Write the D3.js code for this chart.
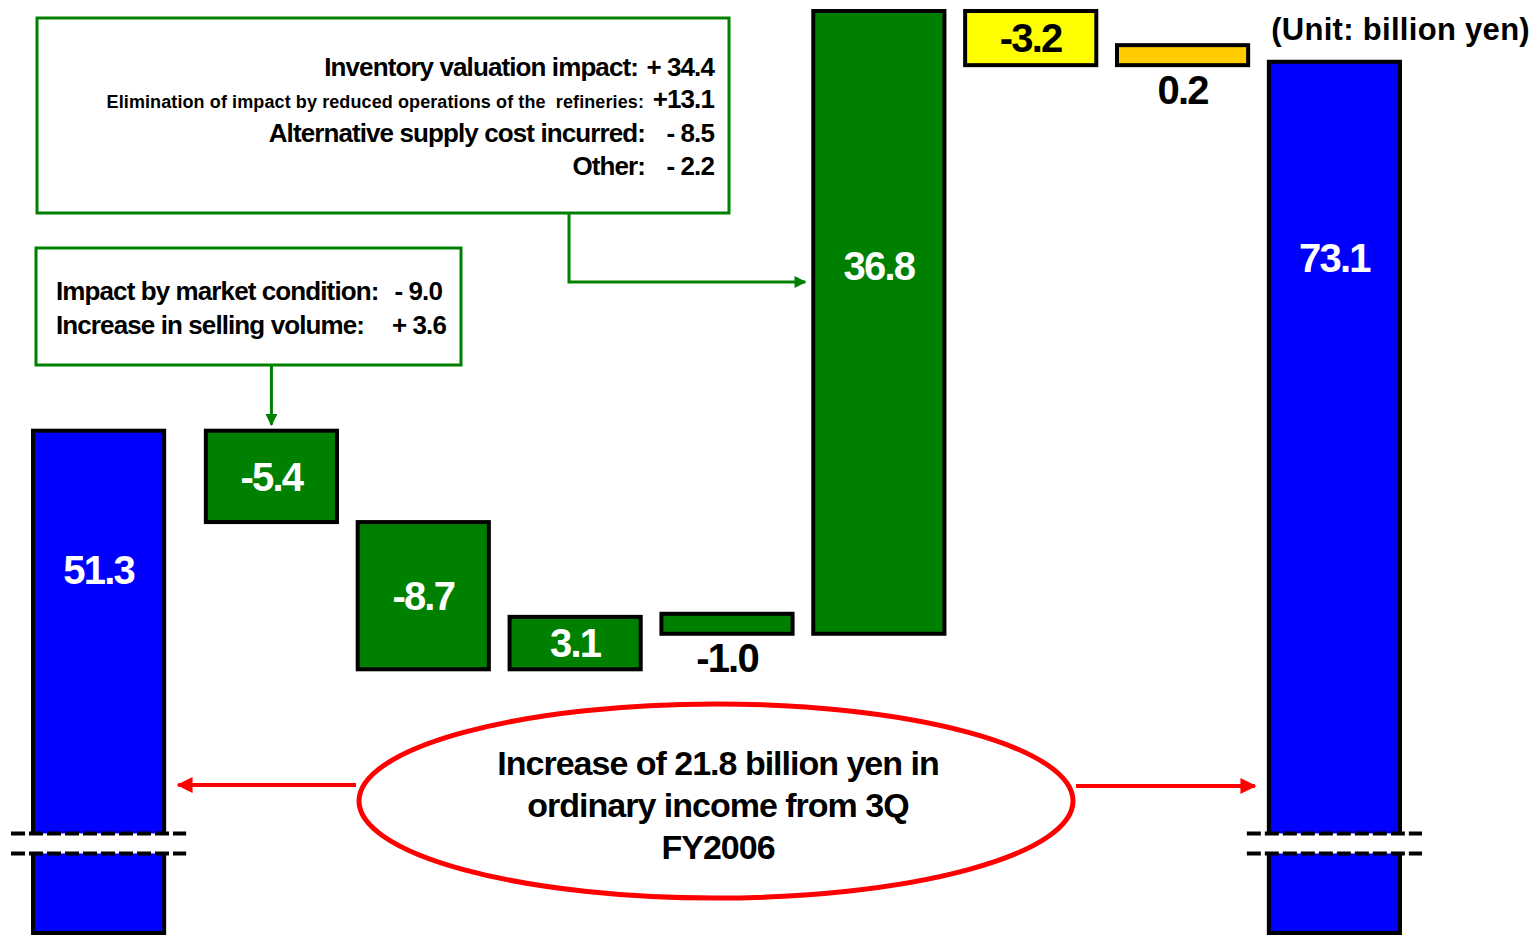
<!DOCTYPE html>
<html>
<head>
<meta charset="utf-8">
<script src="https://cdn.jsdelivr.net/npm/d3@7"></script>
<style>
  body { margin: 0; background: #fff; }
  svg { display: block; font-family: "Liberation Sans", Arial, sans-serif; font-weight: bold; }
</style>
</head>
<body>
<div id="chart"></div>
<script>
// waterfall steps, 3Q FY2006 -> 3Q FY2007 ordinary income
var stepKeys = ["fy2006", "d1", "d2", "d3", "d4", "d5", "d6", "d7", "fy2007"];
var stepValues = [51.3, -5.4, -8.7, 3.1, -1.0, 36.8, -3.2, 0.2, 73.1];
var stepLabels = ["51.3", "-5.4", "-8.7", "3.1", "-1.0", "36.8", "-3.2", "0.2", "73.1"];
var stepIsTotal = [true, false, false, false, false, false, false, false, true];

// annotation texts
var inventoryNotes = [
  ["Inventory valuation impact:", "+ 34.4"],
  ["Elimination of impact by reduced operations of the  refineries:", "+13.1"],
  ["Alternative supply cost incurred:", "- 8.5"],
  ["Other:", "- 2.2"]
];
var marketNotes = [
  ["Impact by market condition:", "- 9.0"],
  ["Increase in selling volume:", "+ 3.6"]
];
var summaryLines = ["Increase of 21.8 billion yen in", "ordinary income from 3Q", "FY2006"];
var unitLabel = "(Unit: billion yen)";
var axisBreak = 27.5;   // value where the axis is broken
var axisBase = 21.5;    // bottom of the visible axis

function init() {
  var w = 1537, h = 935;
  var green = "#008000";

  var svg = d3.select("#chart").append("svg")
    .attr("width", w).attr("height", h);

  // running totals
  var data = [];
  var run = 0;
  stepValues.forEach(function (v, i) {
    var start, end;
    if (stepIsTotal[i]) { start = axisBase; end = v; run = v; }
    else { start = run; end = run + v; run = end; }
    data.push({ key: stepKeys[i], value: v, label: stepLabels[i], total: stepIsTotal[i], start: start, end: end });
  });

  var x = d3.scaleBand()
    .domain(stepKeys)
    .range([52, 1402])
    .paddingInner(0.11)
    .paddingOuter(0);

  // first bar sits a little further left
  function bx(d, i) { return x(d.key) + (i === 0 ? -21 : 0); }

  var y = d3.scaleLinear()
    .domain([axisBase, d3.max(data, function (d) { return Math.max(d.start, d.end); })])
    .range([h, 11]);

  var fills = ["#0000ff", green, green, green, green, green, "#ffff00", "#ffcc00", "#0000ff"];
  var labelColor = ["#fff", "#fff", "#fff", "#fff", "#000", "#fff", "#000", "#000", "#fff"];
  var minH = 20;

  function barTop(d) {
    var t = y(Math.max(d.start, d.end)), b = y(Math.min(d.start, d.end));
    if (b - t < minH) t = b - minH;
    return t;
  }
  function barBottom(d) {
    return d.total ? h - 2 : y(Math.min(d.start, d.end));
  }

  svg.selectAll("rect.bar")
    .data(data)
    .enter().append("rect")
    .attr("class", "bar")
    .attr("x", function (d, i) { return bx(d, i) + 2; })
    .attr("width", x.bandwidth() - 4)
    .attr("y", function (d) { return barTop(d); })
    .attr("height", function (d) { return barBottom(d) - barTop(d); })
    .attr("fill", function (d, i) { return fills[i]; })
    .attr("stroke", "#000")
    .attr("stroke-width", 4);

  // value labels: inside for most bars, below for thin ones
  var labelDy = [139, 0, 0, 0, 0, 255, 0, 0, 196];
  svg.selectAll("text.val")
    .data(data)
    .enter().append("text")
    .attr("class", "val")
    .attr("x", function (d, i) { return bx(d, i) + x.bandwidth() / 2; })
    .attr("y", function (d, i) {
      var t = barTop(d), b = barBottom(d);
      if (b - t <= minH + 1) return b + 24;
      if (labelDy[i]) return t + labelDy[i];
      return (t + b) / 2;
    })
    .attr("dy", "0.36em")
    .attr("text-anchor", "middle")
    .attr("font-size", 40)
    .attr("letter-spacing", -1.8)
    .attr("fill", function (d, i) {
      var t = barTop(d), b = barBottom(d);
      return (b - t <= minH + 1) ? "#000" : labelColor[i];
    })
    .text(function (d) { return d.label; });

  // axis break marks on both totals
  var by = y(axisBreak);
  data.forEach(function (d, i) {
    if (!d.total) return;
    var x0 = bx(d, i) - 20, x1 = bx(d, i) + x.bandwidth() + 20;
    svg.append("rect").attr("x", x0).attr("y", by).attr("width", x1 - x0).attr("height", 20).attr("fill", "#fff");
    [by, by + 20].forEach(function (yy) {
      svg.append("line")
        .attr("x1", x0).attr("x2", x1).attr("y1", yy).attr("y2", yy)
        .attr("stroke", "#000").attr("stroke-width", 4)
        .attr("stroke-dasharray", "14,4");
    });
  });

  // arrow markers
  var defs = svg.append("defs");
  [["arrGreen", green], ["arrRed", "#ff0000"]].forEach(function (m) {
    defs.append("marker")
      .attr("id", m[0])
      .attr("viewBox", "0 0 10 10")
      .attr("refX", 9).attr("refY", 5)
      .attr("markerWidth", 4).attr("markerHeight", 4)
      .attr("orient", "auto")
      .append("path").attr("d", "M0,0L10,5L0,10z").attr("fill", m[1]);
  });

  // inventory box
  svg.append("rect")
    .attr("x", 37).attr("y", 18).attr("width", 692).attr("height", 195)
    .attr("fill", "#fff").attr("stroke", green).attr("stroke-width", 3);

  var invY = [76, 108, 142, 175];
  var invLabelEnd = [638, 644, 645, 645];
  inventoryNotes.forEach(function (ln, i) {
    svg.append("text")
      .attr("x", invLabelEnd[i]).attr("y", invY[i])
      .attr("text-anchor", "end")
      .attr("font-size", i === 1 ? 18 : 26)
      .attr("letter-spacing", i === 1 ? 0.1 : -0.9)
      .attr("xml:space", "preserve")
      .text(ln[0]);
    svg.append("text")
      .attr("x", 714).attr("y", invY[i])
      .attr("text-anchor", "end")
      .attr("font-size", 26)
      .attr("letter-spacing", -0.9)
      .text(ln[1]);
  });

  svg.append("path")
    .attr("d", "M569,214V282H" + (x("d5") - 6))
    .attr("fill", "none").attr("stroke", green).attr("stroke-width", 3)
    .attr("marker-end", "url(#arrGreen)");

  // market box
  svg.append("rect")
    .attr("x", 36).attr("y", 248).attr("width", 425).attr("height", 117)
    .attr("fill", "#fff").attr("stroke", green).attr("stroke-width", 3);

  var mkY = [300, 334];
  var mkValEnd = [442, 446];
  marketNotes.forEach(function (ln, i) {
    svg.append("text")
      .attr("x", 56).attr("y", mkY[i])
      .attr("font-size", 26)
      .attr("letter-spacing", -0.9)
      .text(ln[0]);
    svg.append("text")
      .attr("x", mkValEnd[i]).attr("y", mkY[i])
      .attr("text-anchor", "end")
      .attr("font-size", 26)
      .attr("letter-spacing", -0.9)
      .text(ln[1]);
  });

  var cx2 = x("d1") + x.bandwidth() / 2;
  svg.append("path")
    .attr("d", "M" + cx2 + ",366V" + (barTop(data[1]) - 6))
    .attr("fill", "none").attr("stroke", green).attr("stroke-width", 3)
    .attr("marker-end", "url(#arrGreen)");

  // summary ellipse
  svg.append("ellipse")
    .attr("cx", 716).attr("cy", 801).attr("rx", 357).attr("ry", 97)
    .attr("fill", "#fff").attr("stroke", "#ff0000").attr("stroke-width", 5);

  summaryLines.forEach(function (s, i) {
    svg.append("text")
      .attr("x", 718).attr("y", 775 + i * 42)
      .attr("text-anchor", "middle")
      .attr("font-size", 34)
      .attr("letter-spacing", -1)
      .text(s);
  });

  var last = data.length - 1;
  svg.append("line")
    .attr("x1", 356).attr("x2", bx(data[0], 0) + x.bandwidth() + 12).attr("y1", 785).attr("y2", 785)
    .attr("stroke", "#ff0000").attr("stroke-width", 4).attr("marker-end", "url(#arrRed)");
  svg.append("line")
    .attr("x1", 1076).attr("x2", bx(data[last], last) - 12).attr("y1", 786).attr("y2", 786)
    .attr("stroke", "#ff0000").attr("stroke-width", 4).attr("marker-end", "url(#arrRed)");

  // unit label
  svg.append("text")
    .attr("x", 1530).attr("y", 40)
    .attr("text-anchor", "end")
    .attr("font-size", 31)
    .attr("letter-spacing", 0.3)
    .text(unitLabel);
}

window.onload = init;
</script>
</body>
</html>
